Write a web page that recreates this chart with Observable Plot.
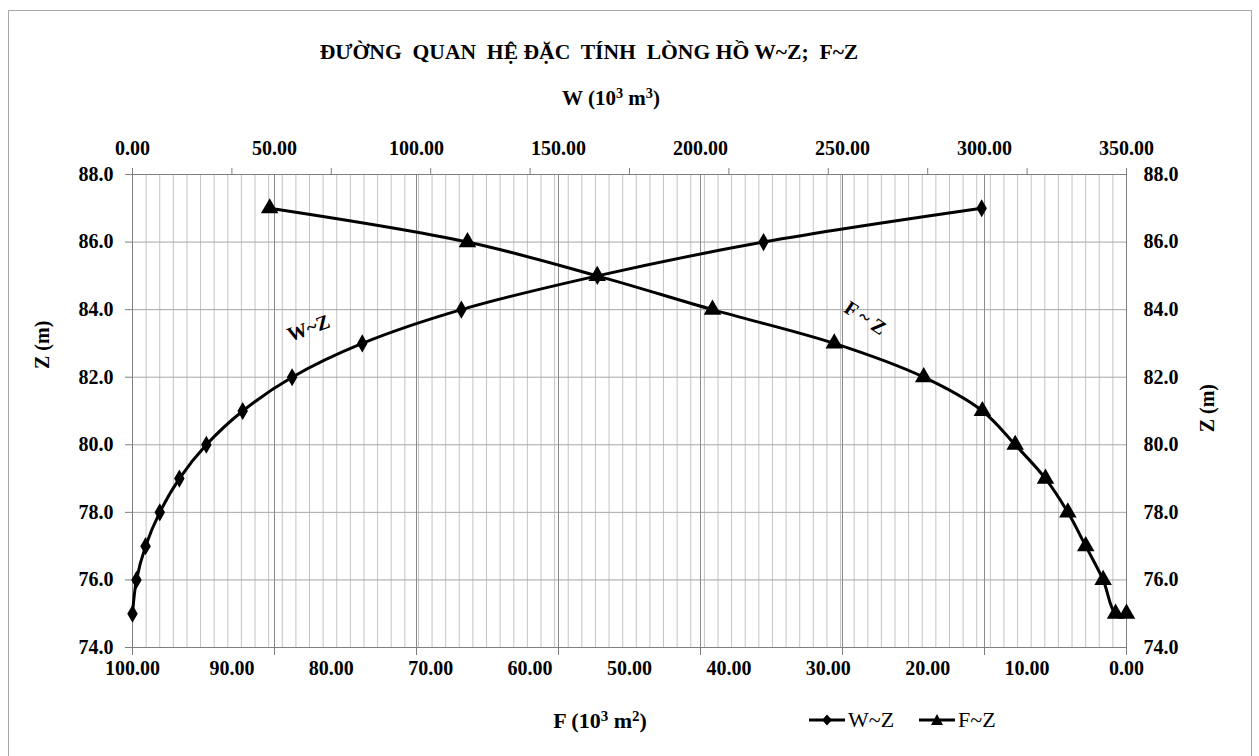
<!DOCTYPE html>
<html><head><meta charset="utf-8">
<script src="https://cdn.jsdelivr.net/npm/d3@7"></script>
<script src="https://cdn.jsdelivr.net/npm/@observablehq/plot@0.6"></script>
<style>
body{margin:0;background:#fff;}
#wrap{position:relative;width:1259px;height:756px;overflow:hidden;font-family:"Liberation Serif","Times New Roman",serif;color:#000;}
#frame{position:absolute;left:8px;top:10px;width:1244px;height:800px;border:1px solid #a6a6a6;box-sizing:border-box;}
#chart{position:absolute;left:0;top:0;}
.lbl{position:absolute;transform:translate(-50%,-50%);white-space:pre;font-weight:bold;line-height:1;}
.lbl sup{font-size:68%;vertical-align:0.45em;line-height:0;}
.item{position:absolute;display:flex;align-items:center;gap:2px;font-size:22px;transform:translateY(-50%);white-space:nowrap;}
</style></head><body>
<div id="wrap"><div id="frame"></div><div id="chart"></div>
<div class="lbl" id="title" style="left:589px;top:53px;font-size:21.6px;"></div>
<div class="lbl" style="left:611px;top:98px;font-size:21px;">W (10<sup>3</sup> m<sup>3</sup>)</div>
<div class="lbl" style="left:600px;top:721px;font-size:22px;">F (10<sup>3</sup> m<sup>2</sup>)</div>
<div class="item" style="left:808px;top:720px;"><svg width="38" height="14"><line x1="1" y1="7" x2="37" y2="7" stroke="#000" stroke-width="3"/><path d="M19,1.5L24,7L19,12.5L14,7Z" fill="#000"/></svg><span>W~Z</span></div>
<div class="item" style="left:918px;top:720px;"><svg width="38" height="14"><line x1="1" y1="7" x2="37" y2="7" stroke="#000" stroke-width="3"/><path d="M19,1L25,12L13,12Z" fill="#000"/></svg><span>F~Z</span></div>
</div>
<script>
// ---- data ----
const zW = [75, 76, 77, 78, 79, 80, 81, 82, 83, 84, 85, 86, 87];
const wValues = [0, 1.4, 4.6, 9.6, 16.5, 26.0, 38.8, 56.2, 80.9, 115.8, 163.7, 222.2, 299.0];
const zF = [75, 75, 76, 77, 78, 79, 80, 81, 82, 83, 84, 85, 86, 87];
const fValues = [0.0, 1.1, 2.35, 4.1, 5.9, 8.15, 11.2, 14.5, 20.4, 29.4, 41.65, 53.25, 66.3, 86.2];
const wTicks = [0, 50, 100, 150, 200, 250, 300, 350];
const fTicks = [100, 90, 80, 70, 60, 50, 40, 30, 20, 10, 0];
const zTicks = [74, 76, 78, 80, 82, 84, 86, 88];
const titleText = "ĐƯỜNG  QUAN  HỆ ĐẶC  TÍNH  LÒNG HỒ W~Z;  F~Z";
const annotations = [
  {label: "W~Z", w: 62, z: 83.45, rotate: -20},
  {label: "F ~ Z", w: 258, z: 83.75, rotate: 33}
];
document.getElementById("title").textContent = titleText;

// F axis (bottom, reversed 100 -> 0) shares the horizontal extent with W (0 -> 350)
const fToW = f => (100 - f) * 3.5;
const wToF = w => 100 - w / 3.5;

const wData = zW.map((z, i) => ({z, w: wValues[i]}));
const fData = zF.map((z, i) => ({z, f: fValues[i]}));
const minorGrid = d3.range(74).map(i => i * 350 / 73);

const chart = Plot.plot({
  width: 1259, height: 756,
  marginLeft: 132, marginRight: 133, marginTop: 174, marginBottom: 109,
  style: {fontFamily: "'Liberation Serif','Times New Roman',serif", fontSize: "20px", fontWeight: "bold", color: "#000", background: "transparent"},
  x: {domain: [0, 350], axis: null},
  y: {domain: [74, 88], axis: null},
  marks: [
    Plot.ruleX(minorGrid, {stroke: "#c4c4c4", strokeWidth: 1}),
    Plot.ruleY(zTicks, {stroke: "#a6a6a6", strokeWidth: 1}),
    Plot.ruleX(wTicks, {stroke: "#8a8a8a", strokeWidth: 1}),
    Plot.frame({stroke: "#7f7f7f"}),
    // top axis: W labels, tick marks at F positions
    Plot.axisX({anchor: "top", ticks: wTicks, tickSize: 0, tickPadding: 20, label: null, tickFormat: d => d.toFixed(2), fill: "#000"}),
    Plot.axisX({anchor: "top", ticks: fTicks.map(fToW), tickSize: 7, label: null, tickFormat: () => "", stroke: "#7f7f7f"}),
    // bottom axis: F labels, tick marks at W positions
    Plot.axisX({anchor: "bottom", ticks: fTicks.map(fToW), tickSize: 0, tickPadding: 13, label: null, tickFormat: w => wToF(w).toFixed(2), fill: "#000"}),
    Plot.axisX({anchor: "bottom", ticks: wTicks, tickSize: 8, label: null, tickFormat: () => "", stroke: "#7f7f7f"}),
    // Z axes
    Plot.axisY({anchor: "left", ticks: zTicks, tickSize: 7, tickPadding: 12, label: null, tickFormat: d => d.toFixed(1), stroke: "#7f7f7f", fill: "#000"}),
    Plot.axisY({anchor: "right", ticks: zTicks, tickSize: 0, tickPadding: 17, label: null, tickFormat: d => d.toFixed(1), fill: "#000"}),
    // series
    Plot.line(wData, {x: "w", y: "z", curve: "catmull-rom", stroke: "#000", strokeWidth: 3}),
    Plot.dot(wData, {x: "w", y: "z", symbol: "diamond", r: 5.5, fill: "#000", stroke: "none"}),
    Plot.line(fData, {x: d => fToW(d.f), y: "z", curve: "catmull-rom", stroke: "#000", strokeWidth: 3}),
    Plot.dot(fData, {x: d => fToW(d.f), y: "z", symbol: "triangle", r: 6.5, fill: "#000", stroke: "none"}),
    // annotations
    Plot.text(annotations, {x: "w", y: "z", text: "label", rotate: "rotate", fontSize: 20, fontWeight: "bold", fill: "#000"}),
    Plot.text(["Z (m)"], {frameAnchor: "left", dx: -90, dy: -42, rotate: -90, fontSize: 20, fontWeight: "bold", fill: "#000"}),
    Plot.text(["Z (m)"], {frameAnchor: "right", dx: 81, dy: -27, rotate: -90, fontSize: 20, fontWeight: "bold", fill: "#000"})
  ]
});
document.getElementById("chart").appendChild(chart);
</script>
</body></html>
